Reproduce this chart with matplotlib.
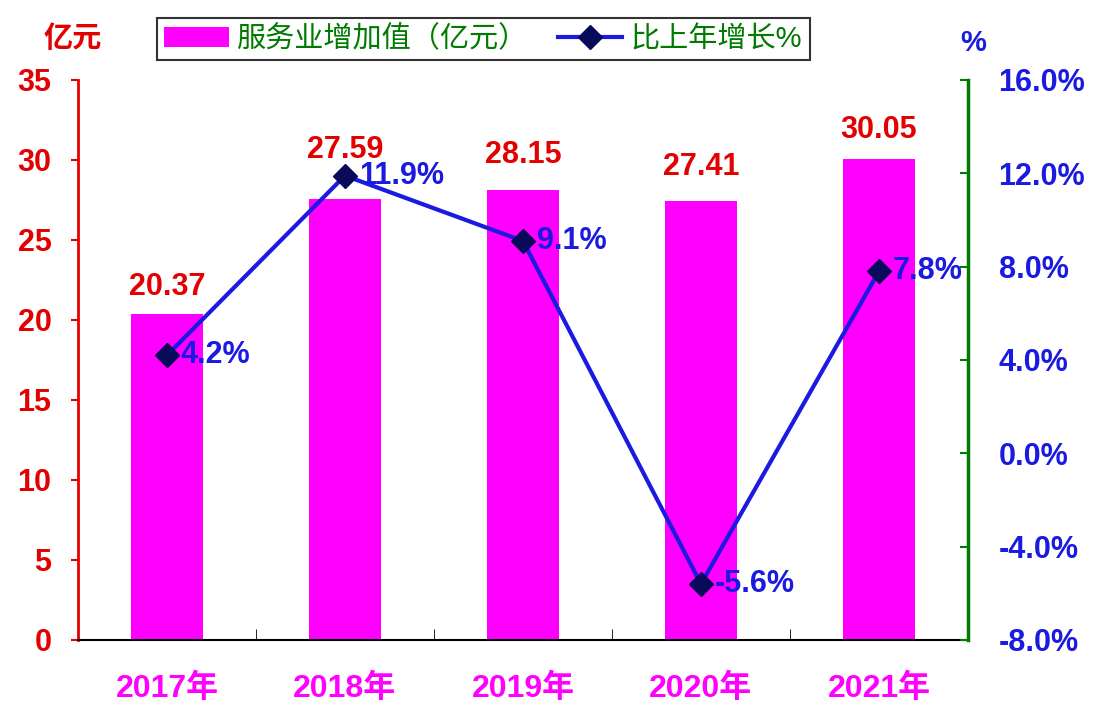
import matplotlib
matplotlib.use("Agg")
import matplotlib.pyplot as plt
import numpy as np

plt.rcParams['font.family'] = ['Liberation Sans', 'Noto Sans CJK SC', 'DejaVu Sans']
plt.rcParams['font.weight'] = 'bold'

years = ['2017年', '2018年', '2019年', '2020年', '2021年']
value = [20.37, 27.59, 28.15, 27.41, 30.05]
growth = [4.2, 11.9, 9.1, -5.6, 7.8]

RED = '#e30000'
BLUE = '#1a1ae0'
GREEN = '#007a00'
MAGENTA = '#ff00ff'
NAVY = '#0a0a5a'

fig = plt.figure(figsize=(11.01, 7.11), dpi=100)
ax = fig.add_axes([0.0708, 0.0999, 0.8084, 0.7876])
ax2 = ax.twinx()

x = np.arange(len(years))
bars = ax.bar(x, value, width=0.4, color=MAGENTA, label='服务业增加值（亿元）', zorder=2)
ax.set_xlim(-0.5, len(years) - 0.5)
ax.set_ylim(0, 35)
ax.set_yticks(range(0, 36, 5))
# 2018 label sits higher so it clears the line marker
lift = [9, 24, 14, 14, 10]
for xi, v, d in zip(x, value, lift):
    ax.annotate(f'{v:.2f}', (xi, v), xytext=(0, d), textcoords='offset points',
                ha='center', va='bottom', color=RED, fontsize=22, fontweight='bold')

line, = ax2.plot(x, growth, color=BLUE, lw=3, marker='D', markersize=12,
                 markerfacecolor=NAVY, markeredgecolor=NAVY, label='比上年增长%', zorder=3)
ax2.set_ylim(-8, 16)
ax2.set_yticks(range(-8, 17, 4))
ax2.set_yticklabels([f'{t:.1f}%' for t in range(-8, 17, 4)])
for xi, g in zip(x, growth):
    ax2.annotate(f'{g}%', (xi, g), xytext=(10, 0), textcoords='offset points',
                 ha='left', va='center', color=BLUE, fontsize=22, fontweight='bold')

# x axis
ax.set_xticks(x)
ax.set_xticklabels(years, color=MAGENTA, fontsize=23, fontweight='bold')
ax.tick_params(axis='x', length=0, pad=24)
ax.set_xticks(np.arange(0.5, len(years) - 1, 1), minor=True)
ax.tick_params(axis='x', which='minor', direction='in', length=8, color='black')

# spines
ax.spines['top'].set_visible(False)
ax2.spines['top'].set_visible(False)
ax.spines['left'].set_color(RED)
ax.spines['left'].set_linewidth(2)
ax.spines['bottom'].set_color('black')
ax.spines['bottom'].set_linewidth(1.5)
ax2.spines['right'].set_color(GREEN)
ax2.spines['right'].set_linewidth(2.5)
ax2.spines['left'].set_visible(False)
ax2.spines['bottom'].set_visible(False)
ax.spines['right'].set_visible(False)

ax.tick_params(axis='y', colors=RED, labelsize=22, length=5, width=1.5, pad=14)
ax2.tick_params(axis='y', colors=GREEN, labelcolor=BLUE, labelsize=22, direction='in',
                length=6, width=1.5, pad=22)
for lab in ax.get_yticklabels() + ax2.get_yticklabels():
    lab.set_fontweight('bold')

fig.text(0.066, 0.945, '亿元', color=RED, fontsize=21, ha='center', va='center')
fig.text(0.884, 0.94, '%', color=BLUE, fontsize=21, ha='center', va='center')

leg = fig.legend([bars, line], ['服务业增加值（亿元）', '比上年增长%'], loc='center',
                 bbox_to_anchor=(0.439, 0.945), ncol=2, frameon=True, fancybox=False,
                 fontsize=21, handlelength=2.2, columnspacing=1.0, handletextpad=0.3,
                 borderpad=0.25, edgecolor='black')
leg.get_frame().set_linewidth(1.5)
for t in leg.get_texts():
    t.set_color(GREEN)
    t.set_fontweight('normal')

fig.savefig('out.png', dpi=100)
